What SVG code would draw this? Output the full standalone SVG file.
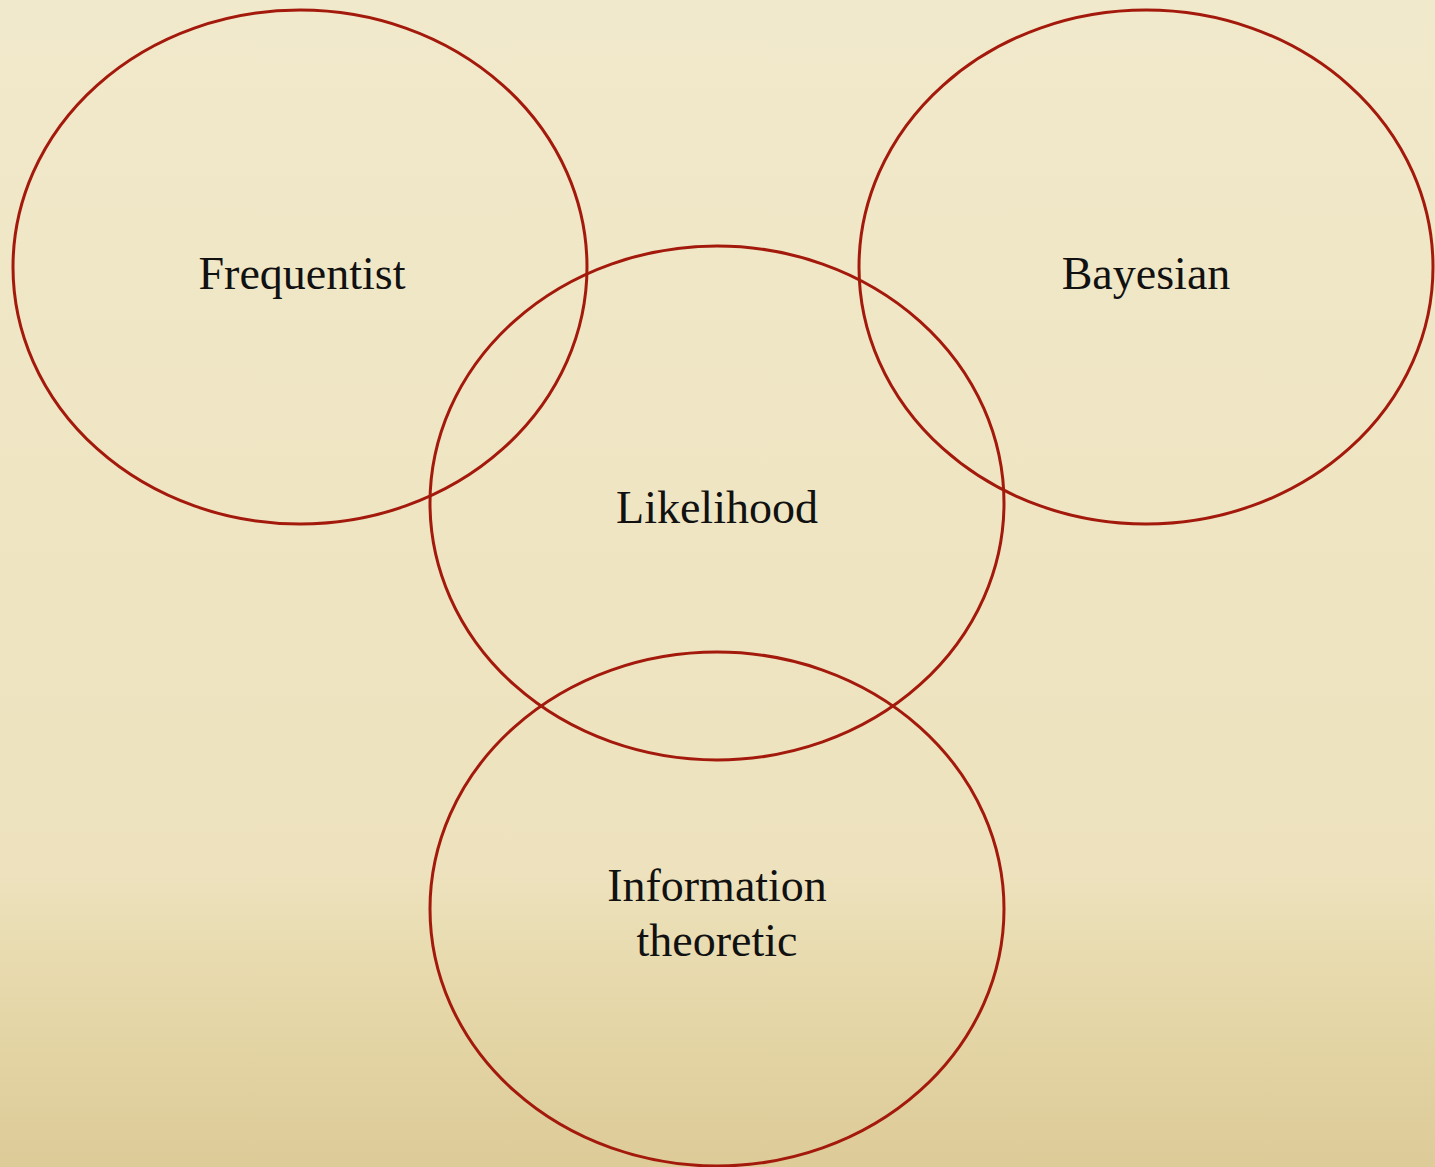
<svg xmlns="http://www.w3.org/2000/svg" width="1435" height="1167" viewBox="0 0 1435 1167">
<defs>
<linearGradient id="bg" x1="0" y1="0" x2="0" y2="1">
<stop offset="0" stop-color="#f1e9cb"/>
<stop offset="0.75" stop-color="#ede2bd"/>
<stop offset="0.85" stop-color="#e6d8aa"/>
<stop offset="1" stop-color="#ddcb98"/>
</linearGradient>
<style>
.c{fill:none;stroke:#a31a0c;stroke-width:3}
.t{font-family:"Liberation Serif","DejaVu Serif",serif;font-size:46px;fill:#111;text-anchor:middle}
</style>
</defs>
<rect width="1435" height="1167" fill="url(#bg)"/>
<g id="frequentist"><ellipse class="c" cx="300" cy="267" rx="287" ry="257"/><text class="t" x="302" y="289">Frequentist</text></g>
<g id="bayesian"><ellipse class="c" cx="1146" cy="267" rx="287" ry="257"/><text class="t" x="1146" y="289">Bayesian</text></g>
<g id="likelihood"><ellipse class="c" cx="717" cy="503" rx="287" ry="257"/><text class="t" x="717" y="523">Likelihood</text></g>
<g id="information"><ellipse class="c" cx="717" cy="909" rx="287" ry="257"/><text class="t" x="717" y="901">Information</text><text class="t" x="717" y="956">theoretic</text></g>
<g id="connectors"/>
</svg>
